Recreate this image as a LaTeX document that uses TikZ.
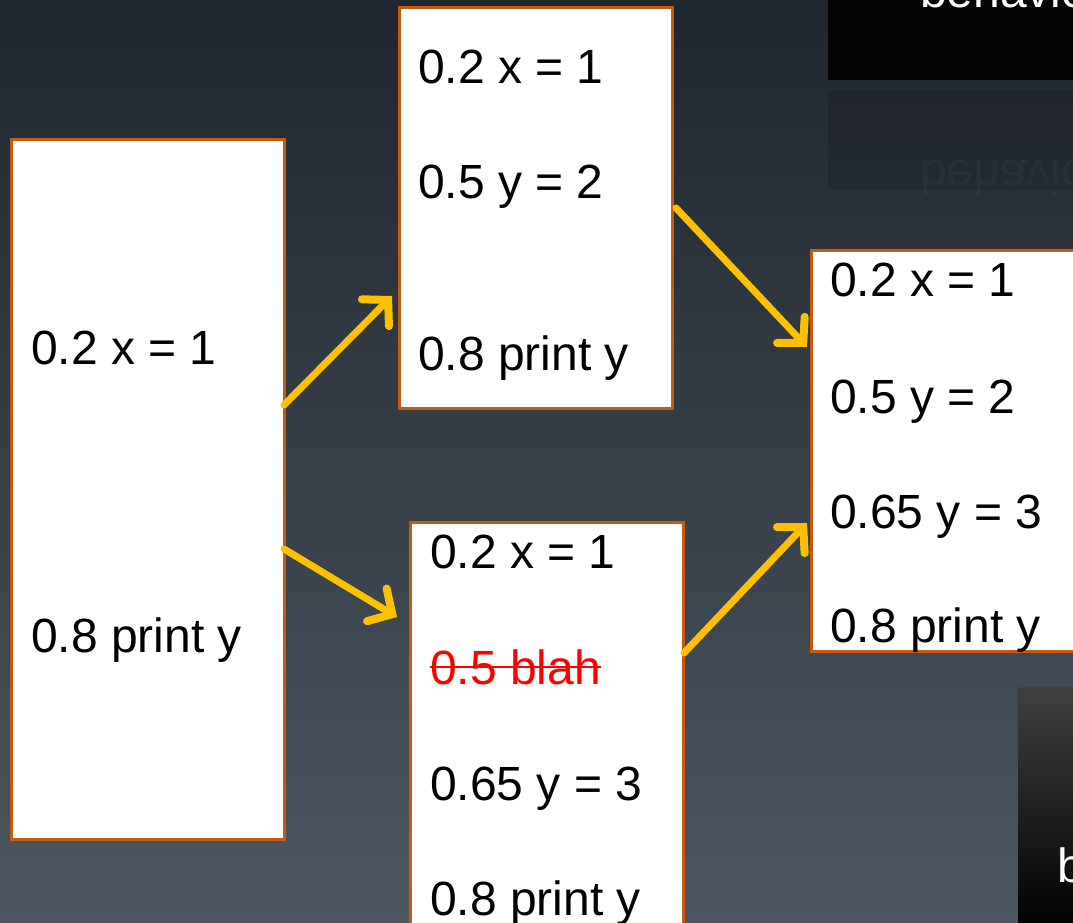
\documentclass[tikz,border=0pt]{standalone}
\usepackage{fontspec}
\setmainfont{Liberation Sans}
\usetikzlibrary{arrows.meta}
\definecolor{bgtop}{HTML}{20262D}
\definecolor{bgbot}{HTML}{4C5762}
\definecolor{boxedge}{HTML}{C55A11}
\definecolor{arr}{HTML}{FFC000}
\tikzset{
  codebox/.style={draw=boxedge, line width=3pt, fill=white},
  codeline/.style={anchor=base west, inner sep=0pt, font=\fontsize{48}{58}\selectfont},
  flow/.style={draw=arr, line width=7pt, line cap=round,
    -{Straight Barb[length=18pt,width=38pt,line cap=round,line width=8pt]}},
}
\begin{document}
\begin{tikzpicture}[x=1pt,y=-1pt]
\useasboundingbox (0,0) rectangle (1073,922);
\clip (0,0) rectangle (1073,922);
\shade[top color=bgtop, bottom color=bgbot] (0,0) rectangle (1073,922);
% top-right black box and reflection
\fill[black!98] (828,-10) rectangle (1080,80);
\fill[black, opacity=0.12] (828,90) rectangle (1080,190);
\node[codeline, text=white] (beh) at (920,7) {behavior};
\node[codeline, text=white, opacity=0.03, yscale=-1, anchor=base west] (behr) at (920,160) {behavior};
% bottom-right black box
\shade[top color=black!75, bottom color=black] (1018,687) rectangle (1080,930);
\node[codeline, text=white] (bb) at (1057,882) {b};
% boxes
\node[codebox, minimum width=273pt, minimum height=700pt, anchor=north west, inner sep=0pt] (A) at (10,138) {};
\node[codebox, minimum width=273pt, minimum height=401pt, anchor=north west, inner sep=0pt] (B) at (398,6) {};
\node[codebox, minimum width=273pt, minimum height=420pt, anchor=north west, inner sep=0pt] (C) at (409,521) {};
\node[codebox, minimum width=290pt, minimum height=401pt, anchor=north west, inner sep=0pt] (D) at (810,249) {};
% texts
\node[codeline] (a1) at (31,364) {0.2 x = 1};
\node[codeline] (a2) at (31,652) {0.8 print y};
\node[codeline] (b1) at (418,83) {0.2 x = 1};
\node[codeline] (b2) at (418,198) {0.5 y = 2};
\node[codeline] (b3) at (418,370) {0.8 print y};
\node[codeline] (c1) at (430,568) {0.2 x = 1};
\node[codeline, text=red] (c2) at (430,684) {0.5 blah};
\node[codeline] (c3) at (430,800) {0.65 y = 3};
\node[codeline] (c4) at (430,915) {0.8 print y};
\node[codeline] (d1) at (830,296) {0.2 x = 1};
\node[codeline] (d2) at (830,413) {0.5 y = 2};
\node[codeline] (d3) at (830,528) {0.65 y = 3};
\node[codeline] (d4) at (830,642) {0.8 print y};
\draw[red, line width=2.5pt] ([yshift=17pt]c2.base west) -- ([yshift=17pt]c2.base east);
% arrows
\coordinate (s1) at (284,405); \coordinate (e1) at (392,296);
\coordinate (s2) at (284,549); \coordinate (e2) at (397,617);
\coordinate (s3) at (676,208); \coordinate (e3) at (807,347);
\coordinate (s4) at (684,653); \coordinate (e4) at (807,523);
\draw[flow] (s1) -- (e1);
\draw[flow] (s2) -- (e2);
\draw[flow] (s3) -- (e3);
\draw[flow] (s4) -- (e4);
\end{tikzpicture}
\end{document}
